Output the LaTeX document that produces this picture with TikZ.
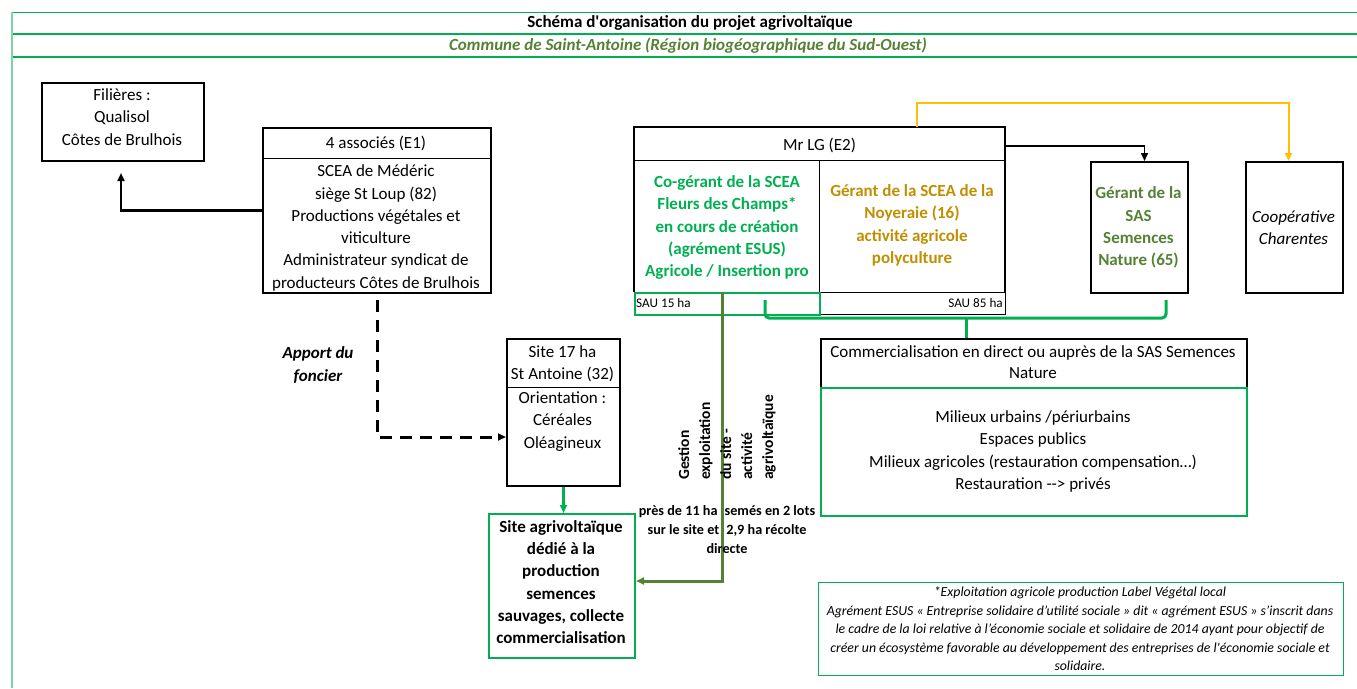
\documentclass[tikz,border=0pt]{standalone}
\usepackage{fontspec}
\setmainfont{Carlito}
\usetikzlibrary{arrows.meta}
\definecolor{xgreen}{HTML}{00B050}
\definecolor{xlgreen}{HTML}{7FD3A4}
\definecolor{xolive}{HTML}{548235}
\definecolor{xgold}{HTML}{BF8F00}
\definecolor{xyellow}{HTML}{FFC000}
\begin{document}
\begin{tikzpicture}[x=1pt,y=-1pt,
  box/.style={draw=black, line width=2pt, anchor=north west, inner sep=0pt},
  gbox/.style={draw=xgreen, line width=2pt, anchor=north west, inner sep=0pt},
  nobox/.style={anchor=north west, inner sep=0pt},
  divline/.style={draw=black, line width=0.9pt},
  txt/.style={align=center, inner sep=0pt, font=\fontsize{17}{22.3}\selectfont},
  btxt/.style={align=center, inner sep=0pt, font=\fontsize{17}{22.3}\selectfont\bfseries},
  small/.style={inner sep=0pt, font=\fontsize{13.2}{15}\selectfont},
  tip/.style={-{Triangle[length=8pt,width=7pt]}},
  blk/.style={draw=black, line width=2.2pt, tip},
  dsh/.style={draw=black, line width=3pt, dash pattern=on 12pt off 8pt, tip},
  grn/.style={draw=xgreen, line width=3pt, tip},
  olv/.style={draw=xolive, line width=3pt, tip},
  yel/.style={draw=xyellow, line width=2pt, tip},
  brk/.style={draw=xgreen, line width=3pt, rounded corners=4pt},
]
\useasboundingbox (0,0) rectangle (1357,688);

% frame
\draw[xgreen, line width=1pt] (12,12) -- (1357,12);
\draw[xgreen, line width=2.2pt] (12,34) -- (1357,34);
\draw[xgreen, line width=2.6pt] (12,57) -- (1357,57);
\draw[xlgreen, line width=1.2pt] (12,12) -- (12,688);
\node[btxt] (title) at (690,23) {Schéma d\textquotesingle organisation du projet agrivoltaïque};
\node[btxt, text=xolive, font=\fontsize{17}{22.3}\selectfont\bfseries\itshape] (subtitle) at (688,46) {Commune de Saint-Antoine (Région biogéographique du Sud-Ouest)};

% boxes
\node[box, minimum width=162pt, minimum height=78pt] (fil) at (41,82) {};
\node[txt] (filt) at (122,117) {Filières :\\Qualisol\\Côtes de Brulhois};

\node[box, minimum width=228pt, minimum height=165pt] (assoc) at (262,127) {};
\draw[divline] ([yshift=-31pt]assoc.north west) -- ([yshift=-31pt]assoc.north east);
\node[txt] (assoch) at (376,143) {4 associés (E1)};
\node[txt] (assocb) at (376,228) {SCEA de Médéric\\siège St Loup (82)\\Productions végétales et\\viticulture\\Administrateur syndicat de\\producteurs Côtes de Brulhois};

\node[nobox, minimum width=371pt, minimum height=165pt] (mrlg) at (634,127) {};
\draw[black, line width=2pt] (mrlg.south west) -- (mrlg.north west) -- (mrlg.north east) -- (mrlg.south east);
\draw[divline] ([yshift=-33pt]mrlg.north west) -- ([yshift=-33pt]mrlg.north east);
\node[nobox, draw=black, line width=0.9pt, minimum width=186pt, minimum height=22pt] (sauR) at (819,292) {};
\node[nobox, draw=xgreen, line width=1.6pt, minimum width=185pt, minimum height=22pt] (sauL) at (634,292) {};
\draw[divline] (sauR.north west) -- ++(0,-132);
\node[txt] (mrlgh) at (819.5,145) {Mr LG (E2)};
\node[btxt, text=xgreen] (scea1) at (727,227.5) {Co-gérant de la SCEA\\Fleurs des Champs*\\en cours de création\\(agrément ESUS)\\Agricole / Insertion pro};
\node[btxt, text=xgold] (scea2) at (912,225.5) {Gérant de la SCEA de la\\Noyeraie (16)\\activité agricole\\polyculture};
\node[small, anchor=west] (sau15) at (636,303) {SAU 15 ha};
\node[small, anchor=east] (sau85) at (1003,303) {SAU 85 ha};

\node[box, minimum width=97pt, minimum height=131pt] (sas) at (1090,161) {};
\node[btxt, text=xolive] (sast) at (1138.5,227.5) {Gérant de la\\SAS\\Semences\\Nature (65)};

\node[box, minimum width=97pt, minimum height=131pt] (coop) at (1245,161) {};
\node[txt, font=\fontsize{17}{22.3}\selectfont\itshape] (coopt) at (1293.5,228) {Coopérative\\Charentes};

\node[box, minimum width=426pt, minimum height=49pt] (commH) at (820,338) {};
\node[gbox, minimum width=426pt, minimum height=128pt] (commB) at (820,387) {};
\node[txt, font=\fontsize{17}{21}\selectfont] (commht) at (1033,362.5) {Commercialisation en direct ou auprès de la SAS Semences\\Nature};
\node[txt] (commbt) at (1033,451.5) {Milieux urbains /périurbains\\Espaces publics\\Milieux agricoles (restauration compensation…)\\Restauration -{}-{}> privés};

\node[box, minimum width=113pt, minimum height=147pt] (site) at (506,338) {};
\draw[divline] ([yshift=-49pt]site.north west) -- ([yshift=-49pt]site.north east);
\node[txt] (siteh) at (562.5,364) {Site 17 ha\\St Antoine (32)};
\node[txt] (siteb) at (562.5,421.5) {Orientation :\\Céréales\\Oléagineux};

\node[gbox, minimum width=146pt, minimum height=144pt] (agri) at (488,513) {};
\node[btxt] (agrit) at (561,582) {Site agrivoltaïque\\dédié à la\\production\\semences\\sauvages, collecte\\commercialisation};

\node[nobox, draw=xgreen, line width=1pt, minimum width=525pt, minimum height=93pt] (foot) at (818,582) {};
\node[align=center, inner sep=0pt, font=\fontsize{13.8}{18.5}\selectfont\itshape] (foott) at (1080,629) {*Exploitation agricole production Label Végétal local\\Agrément ESUS « Entreprise solidaire d’utilité sociale » dit « agrément ESUS » s’inscrit dans\\le cadre de la loi relative à l’économie sociale et solidaire de 2014 ayant pour objectif de\\créer un écosystème favorable au développement des entreprises de l\textquotesingle économie sociale et\\solidaire.};

\node[btxt, font=\fontsize{17}{22.3}\selectfont\bfseries\itshape] (apport) at (318,365) {Apport du\\foncier};

% connectors
\draw[blk] (assoc.west) -| ([xshift=-2pt,yshift=-11pt]fil.south);
\draw[blk, line width=1.6pt] ([yshift=-19pt]mrlg.north east) -| ([xshift=5pt]sas.north);
\draw[yel] ([xshift=97.5pt]mrlg.north) -- ++(0,-24) -| ([xshift=-6pt]coop.north);
\draw[dsh] ([yshift=-6pt]assoc.south) |- ([yshift=-24.5pt]site.west);
\draw[grn] (site.south) -- (site.south |- agri.north);

\coordinate (bl) at (765,300);
\coordinate (bm) at (966,318);
\coordinate (br) at (1166,300);
\draw[brk] (bl) |- (bm) -| (br);
\draw[draw=xgreen, line width=3pt] (bm) -- (bm |- commH.north);

\draw[olv] ([xshift=-4.5pt]sauL.north) |- ([yshift=5pt]agri.east);

\node[btxt, font=\fontsize{15.5}{21}\selectfont\bfseries, rotate=90, anchor=west, align=left] (gest) at (727,480) {Gestion\\exploitation\\du site -\\activité\\agrivoltaïque};
\node[btxt, font=\fontsize{14.2}{19}\selectfont\bfseries] (pres) at (727,529.5) {près de 11 ha\hspace{0.5em}semés en 2 lots\\sur le site et\hspace{0.5em}2,9 ha récolte\\directe};
\end{tikzpicture}
\end{document}
